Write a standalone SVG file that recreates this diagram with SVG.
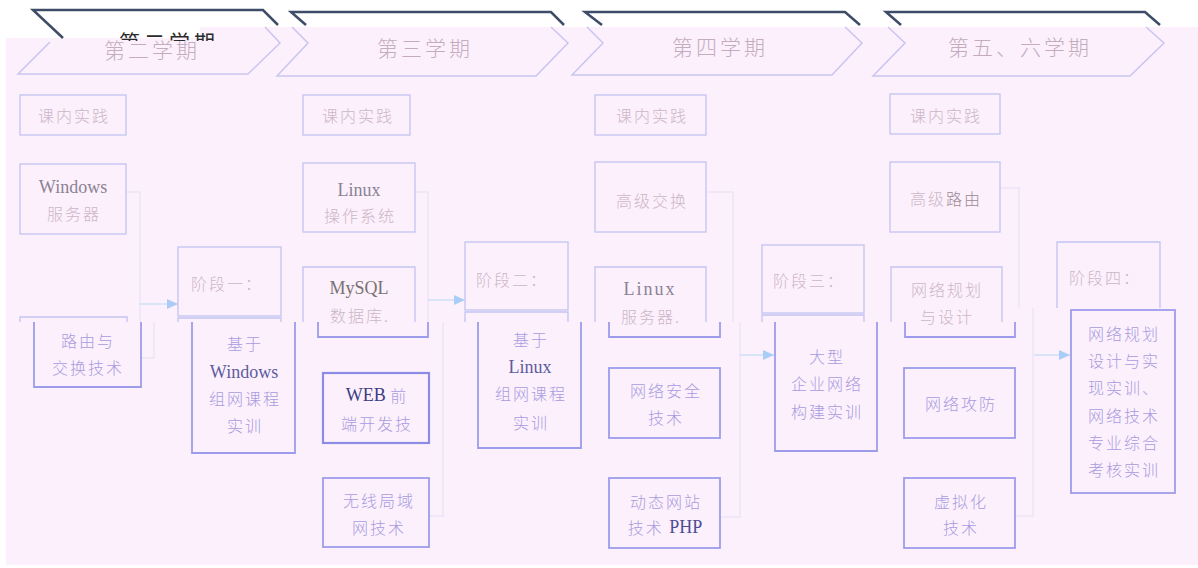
<svg xmlns="http://www.w3.org/2000/svg" width="1198" height="568" viewBox="0 0 1198 568">
<defs>
<style>
.cj{font-family:"Noto Sans CJK SC","Noto Sans",sans-serif;font-weight:300}
.lt{font-family:"Liberation Serif","Noto Sans CJK SC",serif}
.hd{font-size:21px;fill:#c4acbd;letter-spacing:3px}
.hdk{font-size:21px;fill:#2a2a2a;letter-spacing:4px;font-weight:400}
.tu{font-size:16px;fill:#cdb6c7;letter-spacing:2px}
.tl{font-size:16px;fill:#a89ce0;letter-spacing:2px}
.lu{font-size:18px;fill:#8a8294}
.ll{font-size:18px;fill:#5c5c9c}
.bu{fill:none;stroke:#c3c3f2;stroke-width:1.3}
.bl{fill:none;stroke:#9c9cea;stroke-width:1.8}
.ch{fill:none;stroke:#c9c5f1;stroke-width:1.5}
.dk{fill:none;stroke:#3e4c68;stroke-width:2.5}
.cn{fill:none;stroke:#ece3f7;stroke-width:1.5}
.ar{fill:none;stroke:#cfe0f8;stroke-width:1.5;marker-end:url(#ah)}
text{text-anchor:middle;dominant-baseline:central}
</style>
<marker id="ah" markerUnits="userSpaceOnUse" markerWidth="12" markerHeight="12" refX="11" refY="6" orient="auto"><path d="M0,1 L11,6 L0,11 Z" fill="#a9cdf6"/></marker>
<clipPath id="cut"><rect x="0" y="0" width="300" height="41"/></clipPath>
</defs>
<rect x="0" y="0" width="1198" height="568" fill="#ffffff"/>
<path d="M6,38 H200 V27 H1198 V565 H6 Z" fill="#fcf0fc"/>

<g id="header-2">
<path class="dk" d="M63,38 L33,10 H263 L278,25"/>
<path class="ch" d="M50,42 L18,74 H248 L280,43 L265,27"/>
<text class="cj hd" x="152" y="49">第二学期</text>
<text class="cj hdk" x="169" y="41" clip-path="url(#cut)">第二学期</text>
</g>
<g id="header-3">
<path class="dk" d="M306,25 L291,12 H551 L564,25"/>
<path class="ch" d="M292,27 L308,43 L277,76 H536 L568,43 L551,27"/>
<text class="cj hd" x="425" y="47">第三学期</text>
</g>
<g id="header-4">
<path class="dk" d="M602,25 L585,12 H845 L860,25"/>
<path class="ch" d="M587,27 L603,43 L572,75 H832 L862,43 L845,27"/>
<text class="cj hd" x="720" y="46">第四学期</text>
</g>
<g id="header-56">
<path class="dk" d="M901,25 L886,12 H1145 L1160,25"/>
<path class="ch" d="M888,27 L905,43 L873,76 H1130 L1164,43 L1146,27"/>
<text class="cj hd" x="1020" y="46">第五、六学期</text>
</g>

<g id="connectors">
<path class="cn" d="M126,192 H140 V322 M154,322 V358 H141"/>
<path class="ar" d="M140,304 H178"/>
<path class="cn" d="M415,192 H428 V322 M443,322 V516 H429"/>
<path class="ar" d="M428,300 H465"/>
<path class="cn" d="M706,192 H733 V322 M740,322 V517 H720"/>
<path class="ar" d="M740,355 H774"/>
<path class="cn" d="M1000,188 H1019 V308 M1033,308 V516 H1015"/>
<path class="ar" d="M1034,355 H1070"/>
</g>

<g id="s2-practice">
<rect class="bu" x="20" y="95" width="106" height="40"/>
<text class="cj tu" x="74" y="115">课内实践</text>
</g>
<g id="s2-windows-server">
<rect class="bu" x="20" y="164" width="106" height="70"/>
<text class="lt lu" x="73" y="187">Windows</text>
<text class="cj tu" x="74" y="213">服务器</text>
</g>
<g id="s2-routing">
<path class="bu" d="M20,322 V317 H127 V322"/>
<path class="bl" d="M34,322 V387 H141 V322"/>
<text class="cj tl" x="88" y="340">路由与</text>
<text class="cj tl" x="88" y="367">交换技术</text>
</g>
<g id="stage-1">
<rect class="bu" x="178" y="247" width="103" height="69"/>
<text class="cj tu" x="227" y="283">阶段一：</text>
</g>
<g id="stage-1-training">
<path class="bu" d="M178,322 V318 H281 V322"/>
<path class="bl" d="M192,322 V453 H295 V322"/>
<text class="cj tl" x="245" y="343">基于</text>
<text class="lt ll" x="244" y="372">Windows</text>
<text class="cj tl" x="245" y="398">组网课程</text>
<text class="cj tl" x="245" y="425">实训</text>
</g>

<g id="s3-practice">
<rect class="bu" x="303" y="95" width="107" height="40"/>
<text class="cj tu" x="358" y="115">课内实践</text>
</g>
<g id="s3-linux-os">
<rect class="bu" x="303" y="163" width="112" height="69"/>
<text class="lt lu" x="359" y="190">Linux</text>
<text class="cj tu" x="360" y="215">操作系统</text>
</g>
<g id="s3-mysql">
<path class="bu" d="M303,322 V267 H415 V322"/>
<path class="bl" d="M318,322 V337 H428 V322"/>
<text class="lt lu" x="359" y="288" style="fill:#7a7272">MySQL</text>
<text class="cj tu" x="360" y="315">数据库.</text>
</g>
<g id="s3-web">
<rect class="bl" x="323" y="373" width="106" height="70" style="stroke:#8c8ce6;stroke-width:2.2"/>
<text x="377" y="395"><tspan class="lt ll" style="fill:#3c3c84">WEB </tspan><tspan class="cj tl">前</tspan></text>
<text class="cj tl" x="377" y="423">端开发技</text>
</g>
<g id="s3-wlan">
<rect class="bl" x="323" y="478" width="106" height="69"/>
<text class="cj tl" x="379" y="500">无线局域</text>
<text class="cj tl" x="379" y="527">网技术</text>
</g>
<g id="stage-2">
<rect class="bu" x="465" y="242" width="103" height="68"/>
<text class="cj tu" x="512" y="279">阶段二：</text>
</g>
<g id="stage-2-training">
<path class="bu" d="M465,322 V312 H568 V322"/>
<path class="bl" d="M478,322 V448 H581 V322"/>
<text class="cj tl" x="531" y="339">基于</text>
<text class="lt ll" x="530" y="367">Linux</text>
<text class="cj tl" x="531" y="393">组网课程</text>
<text class="cj tl" x="531" y="422">实训</text>
</g>

<g id="s4-practice">
<rect class="bu" x="595" y="95" width="111" height="40"/>
<text class="cj tu" x="652" y="115">课内实践</text>
</g>
<g id="s4-switching">
<rect class="bu" x="595" y="162" width="111" height="70"/>
<text class="cj tu" x="652" y="200">高级交换</text>
</g>
<g id="s4-linux-server">
<path class="bu" d="M595,322 V267 H706 V322"/>
<path class="bl" d="M609,322 V337 H720 V322"/>
<text class="lt lu" x="650" y="289" style="letter-spacing:2px">Linux</text>
<text class="cj tu" x="651" y="316">服务器.</text>
</g>
<g id="s4-security">
<rect class="bl" x="609" y="368" width="111" height="70"/>
<text class="cj tl" x="666" y="390">网络安全</text>
<text class="cj tl" x="666" y="417">技术</text>
</g>
<g id="s4-php">
<rect class="bl" x="609" y="478" width="111" height="70"/>
<text class="cj tl" x="666" y="501">动态网站</text>
<text x="665" y="527"><tspan class="cj tl">技术 </tspan><tspan class="lt ll" style="fill:#4c4c94">PHP</tspan></text>
</g>
<g id="stage-3">
<rect class="bu" x="762" y="245" width="102" height="68"/>
<text class="cj tu" x="809" y="280">阶段三：</text>
</g>
<g id="stage-3-training">
<path class="bu" d="M762,322 V315 H864 V322"/>
<path class="bl" d="M775,322 V451 H877 V322"/>
<text class="cj tl" x="827" y="356">大型</text>
<text class="cj tl" x="827" y="383">企业网络</text>
<text class="cj tl" x="827" y="411">构建实训</text>
</g>

<g id="s56-practice">
<rect class="bu" x="890" y="94" width="110" height="40"/>
<text class="cj tu" x="946" y="115">课内实践</text>
</g>
<g id="s56-routing">
<rect class="bu" x="890" y="162" width="110" height="70"/>
<text class="cj tu" x="946" y="198">高级<tspan style="fill:#9c8a96">路由</tspan></text>
</g>
<g id="s56-planning">
<path class="bu" d="M891,322 V267 H1002 V322"/>
<path class="bl" d="M905,322 V337 H1015 V322"/>
<text class="cj tu" x="947" y="289">网络规划</text>
<text class="cj tu" x="947" y="316">与设计</text>
</g>
<g id="s56-attack">
<rect class="bl" x="904" y="368" width="111" height="70"/>
<text class="cj tl" x="961" y="403">网络攻防</text>
</g>
<g id="s56-virtual">
<rect class="bl" x="904" y="478" width="111" height="70"/>
<text class="cj tl" x="961" y="501">虚拟化</text>
<text class="cj tl" x="961" y="527">技术</text>
</g>
<g id="stage-4">
<path class="bu" d="M1057,308 V242 H1160 V308"/>
<text class="cj tu" x="1105" y="277">阶段四：</text>
</g>
<g id="stage-4-training">
<rect class="bl" x="1071" y="310" width="104" height="183"/>
<text class="cj tl" x="1124" y="333">网络规划</text>
<text class="cj tl" x="1124" y="360">设计与实</text>
<text class="cj tl" x="1124" y="387">现实训、</text>
<text class="cj tl" x="1124" y="415">网络技术</text>
<text class="cj tl" x="1124" y="442">专业综合</text>
<text class="cj tl" x="1124" y="469">考核实训</text>
</g>
</svg>
